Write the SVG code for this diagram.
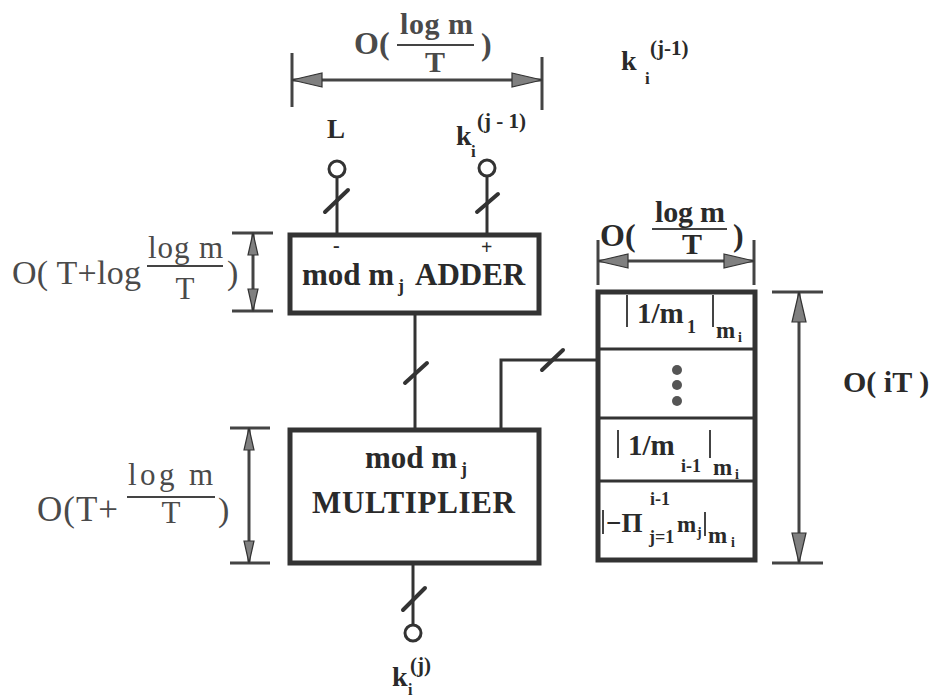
<svg xmlns="http://www.w3.org/2000/svg" width="948" height="698" viewBox="0 0 948 698">
<style>
.box{fill:#fff;stroke:#333;stroke-width:5}
.ln{stroke:#333;stroke-width:3;fill:none}
.dim{stroke:#444;stroke-width:3;fill:none}
.tick{stroke:#444;stroke-width:3}
.sl{stroke:#333;stroke-width:4;stroke-linecap:round}
.pin{fill:#fff;stroke:#333;stroke-width:3}
.bar{stroke:#444;stroke-width:2}
text{font-family:"Liberation Serif","Times New Roman",serif;fill:#2a2a2a}
.b{font-weight:bold}
.lbl{fill:#4a4a4a}
</style>
<defs>
<marker id="ab" markerUnits="userSpaceOnUse" markerWidth="34" markerHeight="18" refX="31" refY="8" orient="auto-start-reverse"><path d="M1,1 L31,8 L1,15 z" fill="#808080" stroke="#333" stroke-width="1.2"/></marker>
<marker id="as" markerUnits="userSpaceOnUse" markerWidth="26" markerHeight="14" refX="23" refY="6" orient="auto-start-reverse"><path d="M1,1 L23,6 L1,11 z" fill="#808080" stroke="#333" stroke-width="1.2"/></marker>
</defs>

<g id="connectors">
<line class="ln" x1="337" y1="177" x2="337" y2="235"/>
<line class="sl" x1="325" y1="212" x2="348" y2="190"/>
<line class="ln" x1="487" y1="176" x2="487" y2="235"/>
<line class="sl" x1="477" y1="212" x2="498" y2="194"/>
<line class="ln" x1="415" y1="313" x2="415" y2="430"/>
<line class="sl" x1="405" y1="383" x2="427" y2="363"/>
<polyline class="ln" points="501,430 501,360 598,360"/>
<line class="sl" x1="542" y1="370" x2="563" y2="350"/>
<line class="ln" x1="413" y1="563" x2="413" y2="625"/>
<line class="sl" x1="403" y1="610" x2="425" y2="588"/>
</g>

<g id="pin-L">
<circle class="pin" cx="337" cy="169" r="8"/>
<text class="b" x="327" y="138" font-size="27">L</text>
</g>
<g id="pin-k-in">
<circle class="pin" cx="487" cy="168" r="8"/>
<text class="b" x="456" y="145" font-size="28">k</text>
<text class="b" x="471" y="157" font-size="17">i</text>
<text class="b" x="477" y="128" font-size="21">(j - 1)</text>
</g>
<g id="pin-k-out">
<circle class="pin" cx="413" cy="633" r="8"/>
<text class="b" x="392" y="686" font-size="28">k</text>
<text class="b" x="408" y="695" font-size="16">i</text>
<text class="b" x="410" y="672" font-size="21">(j)</text>
</g>

<g id="top-label">
<text class="b" x="621" y="70" font-size="28">k</text>
<text class="b" x="645" y="84" font-size="17">i</text>
<text class="b" x="650" y="55" font-size="21">(j-1)</text>
</g>

<g id="adder">
<rect class="box" x="290" y="235" width="249" height="78"/>
<text class="b" x="302" y="285" font-size="31">mod m</text>
<text class="b" x="398" y="292" font-size="18">j</text>
<text class="b" x="415" y="285" font-size="31">ADDER</text>
<text class="b" x="333" y="252" font-size="20">-</text>
<text class="b" x="481" y="254" font-size="20">+</text>
</g>

<g id="multiplier">
<rect class="box" x="290" y="430" width="249" height="133"/>
<text class="b" x="365" y="468" font-size="31">mod m</text>
<text class="b" x="461" y="475" font-size="18">j</text>
<text class="b" x="312" y="513" font-size="31" textLength="203">MULTIPLIER</text>
</g>

<g id="memory">
<rect class="box" x="598" y="292" width="157" height="268"/>
<line class="ln" x1="598" y1="349" x2="755" y2="349"/>
<line class="ln" x1="598" y1="418" x2="755" y2="418"/>
<line class="ln" x1="598" y1="481" x2="755" y2="481"/>
<line class="bar" x1="627" y1="295" x2="627" y2="327"/>
<text class="b" x="637" y="323" font-size="29">1/m</text>
<text class="b" x="687" y="333" font-size="18">1</text>
<line class="bar" x1="713" y1="295" x2="713" y2="327"/>
<text class="b" x="716" y="338" font-size="23">m</text>
<text class="b" x="738" y="342" font-size="14">i</text>
<circle cx="677" cy="370" r="5" fill="#555"/>
<circle cx="677" cy="385" r="5" fill="#555"/>
<circle cx="677" cy="401" r="5" fill="#555"/>
<line class="bar" x1="618" y1="430" x2="618" y2="458"/>
<text class="b" x="628" y="455" font-size="29">1/m</text>
<text class="b" x="681" y="472" font-size="18">i-1</text>
<line class="bar" x1="710" y1="430" x2="710" y2="458"/>
<text class="b" x="713" y="475" font-size="23">m</text>
<text class="b" x="735" y="479" font-size="14">i</text>
<text class="b" x="650" y="505" font-size="18">i-1</text>
<line class="bar" x1="603" y1="510" x2="603" y2="534"/>
<text class="b" x="606" y="532" font-size="27">−Π</text>
<text class="b" x="649" y="543" font-size="18">j=1</text>
<text class="b" x="677" y="532" font-size="23">m</text>
<text class="b" x="697" y="537" font-size="14">j</text>
<line class="bar" x1="705" y1="512" x2="705" y2="536"/>
<text class="b" x="708" y="543" font-size="23">m</text>
<text class="b" x="731" y="547" font-size="14">i</text>
</g>

<g id="dim-top">
<line class="tick" x1="292" y1="53" x2="292" y2="107"/>
<line class="tick" x1="542" y1="57" x2="542" y2="110"/>
<line class="dim" x1="292" y1="80" x2="542" y2="80" marker-start="url(#ab)" marker-end="url(#ab)"/>
<text class="b lbl" x="354" y="54" font-size="32">O(</text>
<text class="b lbl" x="400" y="34" font-size="30" textLength="73">log m</text>
<line class="bar" x1="397" y1="45" x2="474" y2="45"/>
<text class="b lbl" x="435" y="72" font-size="30" text-anchor="middle">T</text>
<text class="b lbl" x="481" y="55" font-size="32">)</text>
</g>

<g id="dim-memory-width">
<line class="tick" x1="598" y1="240" x2="598" y2="285"/>
<line class="tick" x1="754" y1="240" x2="754" y2="285"/>
<line class="dim" x1="598" y1="261" x2="754" y2="261" marker-start="url(#ab)" marker-end="url(#ab)"/>
<text class="b" x="600" y="246" font-size="32">O(</text>
<text class="b" x="655" y="222" font-size="30" textLength="70">log m</text>
<line class="bar" x1="652" y1="229" x2="727" y2="229"/>
<text class="b" x="692" y="254" font-size="30" text-anchor="middle">T</text>
<text class="b" x="733" y="246" font-size="32">)</text>
</g>

<g id="dim-memory-height">
<line class="tick" x1="772" y1="292" x2="823" y2="292"/>
<line class="tick" x1="772" y1="563" x2="823" y2="563"/>
<line class="dim" x1="799" y1="292" x2="799" y2="563" marker-start="url(#ab)" marker-end="url(#ab)"/>
<text class="b" x="843" y="392" font-size="30">O( iT )</text>
</g>

<g id="dim-adder">
<line class="tick" x1="232" y1="233" x2="273" y2="233"/>
<line class="tick" x1="232" y1="311" x2="273" y2="311"/>
<line class="dim" x1="253" y1="233" x2="253" y2="311" marker-start="url(#as)" marker-end="url(#as)"/>
<text class="lbl" x="12" y="284" font-size="34" textLength="129">O( T+log</text>
<text class="lbl" x="148" y="258" font-size="31" textLength="75">log m</text>
<line class="bar" x1="147" y1="266" x2="223" y2="266"/>
<text class="lbl" x="185" y="299" font-size="31" text-anchor="middle">T</text>
<text class="lbl" x="227" y="284" font-size="34">)</text>
</g>

<g id="dim-multiplier">
<line class="tick" x1="230" y1="428" x2="270" y2="428"/>
<line class="tick" x1="230" y1="563" x2="270" y2="563"/>
<line class="dim" x1="249" y1="428" x2="249" y2="563" marker-start="url(#as)" marker-end="url(#as)"/>
<text class="lbl" x="37" y="521" font-size="35" textLength="81">O(T+</text>
<text class="lbl" x="128" y="485" font-size="31" textLength="85">log m</text>
<line class="bar" x1="127" y1="497" x2="215" y2="497"/>
<text class="lbl" x="171" y="523" font-size="31" text-anchor="middle">T</text>
<text class="lbl" x="218" y="521" font-size="34">)</text>
</g>
</svg>
